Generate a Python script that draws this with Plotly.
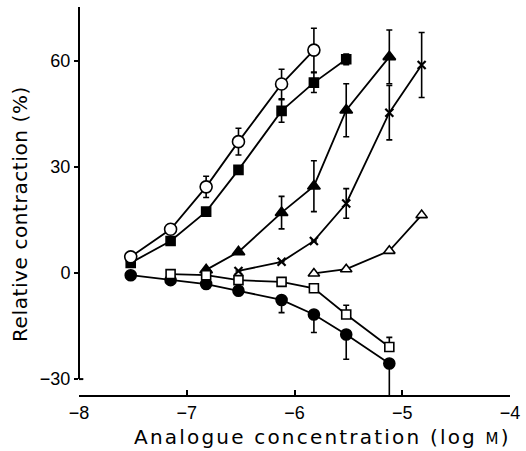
import plotly.graph_objects as go

# Open circles
oc_x = [-7.52, -7.15, -6.82, -6.52, -6.12, -5.82]
oc_y = [4.6, 12.4, 24.4, 37.2, 53.5, 63.1]
oc_e = [0, 0, 3.0, 3.8, 4.2, 6.2]

# Filled squares
fs_x = [-7.52, -7.15, -6.82, -6.52, -6.12, -5.82, -5.52]
fs_y = [2.9, 9.1, 17.4, 29.2, 45.9, 53.9, 60.5]
fs_e = [0, 0, 0, 0, 3.2, 2.8, 1.5]

# Filled triangles
ft_x = [-6.82, -6.52, -6.12, -5.82, -5.52, -5.12]
ft_y = [0.9, 6.0, 17.1, 24.6, 46.1, 61.2]
ft_e = [0, 0, 4.6, 7.2, 7.5, 7.6]

# Crosses
cr_x = [-6.52, -6.12, -5.82, -5.52, -5.12, -4.82]
cr_y = [0.6, 3.2, 9.1, 19.7, 45.4, 58.9]
cr_e = [0, 0, 0, 4.2, 7.7, 9.2]

# Open triangles
ot_x = [-5.82, -5.52, -5.12, -4.82]
ot_y = [-0.1, 1.1, 6.3, 16.4]

# Open squares (error shown upward)
os_x = [-7.15, -6.82, -6.52, -6.12, -5.82, -5.52, -5.12]
os_y = [-0.3, -0.6, -2.0, -2.5, -4.3, -11.7, -20.9]
os_e = [0, 0, 0, 0, 0, 2.6, 2.7]

# Filled circles (error shown downward)
fc_x = [-7.52, -7.15, -6.82, -6.52, -6.12, -5.82, -5.52, -5.12]
fc_y = [-0.6, -2.0, -3.1, -5.0, -7.6, -11.7, -17.4, -25.6]
fc_e = [0, 0, 0, 0, 3.6, 5.1, 7.0, 10.0]

x_ticks = [-8, -7, -6, -5, -4]
y_ticks = [-30, 0, 30, 60]

BLACK = "black"
LW = 1.8
FONT = "Liberation Sans, Arial, sans-serif"
TFONT = "DejaVu Sans, sans-serif"

fig = go.Figure()


def err(vals, up=True, down=True):
    return dict(
        type="data", symmetric=False,
        array=vals if up else [0] * len(vals),
        arrayminus=vals if down else [0] * len(vals),
        color=BLACK, thickness=1.6, width=3,
    )


def add(xs, ys, symbol, size, fill, e=None, lw=1.6):
    fig.add_trace(go.Scatter(
        x=xs, y=ys, mode="lines+markers",
        line=dict(color=BLACK, width=LW),
        marker=dict(symbol=symbol, size=size, color=fill,
                    line=dict(color=BLACK, width=lw)),
        error_y=e, showlegend=False,
    ))


add(ot_x, ot_y, "triangle-up", 10, "white")
add(cr_x, cr_y, "x-thin", 8, BLACK, err(cr_e), lw=2.2)
add(ft_x, ft_y, "triangle-up", 11, BLACK, err(ft_e))
add(fc_x, fc_y, "circle", 11, BLACK, err(fc_e, up=False))
add(os_x, os_y, "square", 9, "white", err(os_e, down=False))
add(fs_x, fs_y, "square", 9, BLACK, err(fs_e))
add(oc_x, oc_y, "circle", 12, "white", err(oc_e))

# y-axis line (ends at -30, detached from x axis) with small foot
fig.add_shape(type="line", xref="paper", yref="y", x0=0, x1=0, y0=-30, y1=75.3,
              line=dict(color=BLACK, width=2))
fig.add_shape(type="line", xref="x", yref="y", x0=-8, x1=-7.96, y0=-30, y1=-30,
              line=dict(color=BLACK, width=2))

fig.update_xaxes(
    range=[-8, -4], tickvals=x_ticks, ticks="inside", ticklen=5, tickwidth=1.5,
    tickcolor=BLACK, showline=True, linecolor=BLACK, linewidth=2,
    showgrid=False, zeroline=False,
    tickfont=dict(family=FONT, size=18, color=BLACK),
)
fig.update_yaxes(
    range=[-34.5, 75.3], tickvals=y_ticks, ticks="outside", ticklen=4, tickwidth=1.5,
    tickcolor=BLACK, showline=False, showgrid=False, zeroline=False,
    tickfont=dict(family=FONT, size=18, color=BLACK),
)

fig.add_annotation(
    text="<span style='letter-spacing:2.2px'>Analogue concentration (log "
         "<span style='font-size:15px'>M</span>)</span>",
    xref="paper", yref="paper", x=(322 - 79) / 431, y=0,
    yshift=-42, yanchor="middle", xanchor="center", showarrow=False,
    font=dict(family=TFONT, size=20, color=BLACK))
fig.add_annotation(
    text="<span style='letter-spacing:0.6px'>Relative contraction (%)</span>",
    xref="paper", yref="paper", x=0, y=(395 - 214) / 388,
    xshift=-59, textangle=-90, xanchor="center", yanchor="middle",
    showarrow=False, font=dict(family=TFONT, size=20, color=BLACK))

fig.update_layout(
    width=526, height=451, margin=dict(l=79, r=16, t=7, b=56),
    paper_bgcolor="white", plot_bgcolor="white",
)

fig.write_html("out.html")
